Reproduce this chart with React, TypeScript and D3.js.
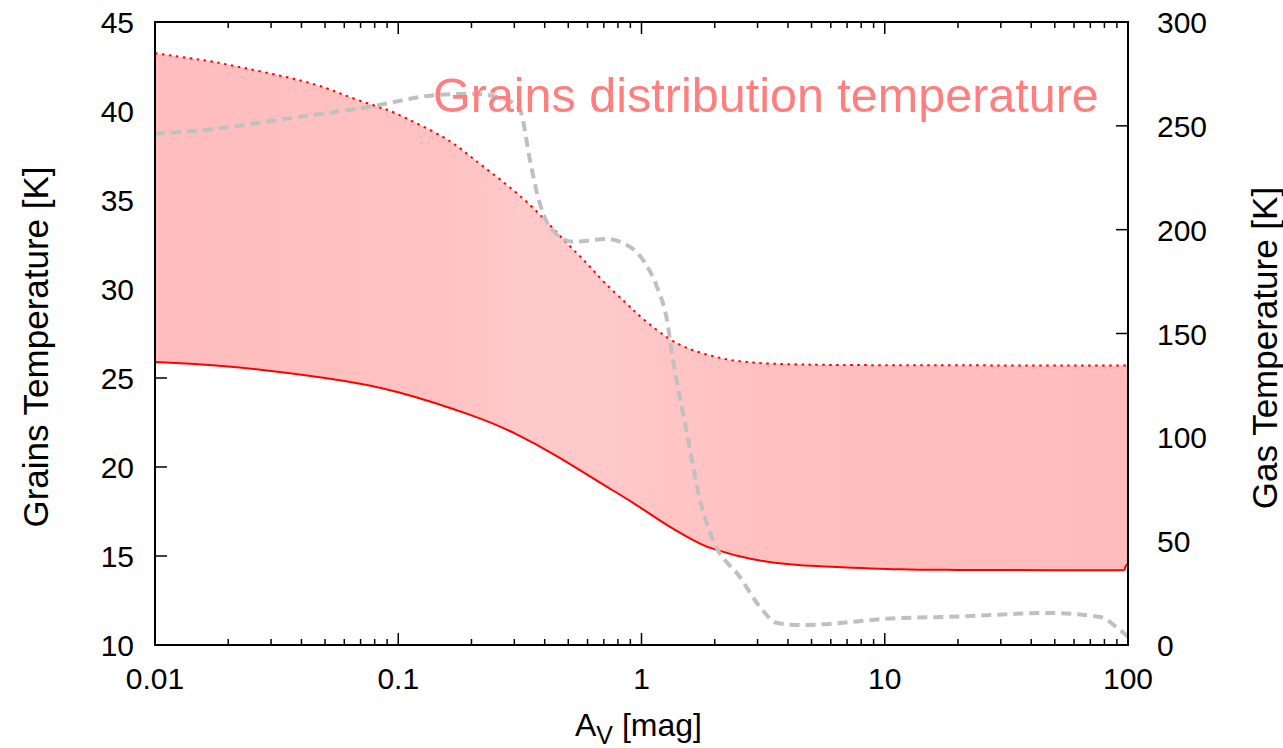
import React from "react";
import * as d3 from "d3";

// Grain temperature range (K) vs A_V (mag)
const grainAv = [0.01, 0.02, 0.05, 0.1, 0.2, 0.3, 0.45, 0.67, 0.92, 1.27, 1.74, 2.03, 2.5, 3.3, 4.4, 6.0, 11.5, 20, 50, 90, 97, 100];
const grainMin = [25.9, 25.65, 25.0, 24.2, 22.9, 21.9, 20.6, 19.15, 18.0, 16.75, 15.7, 15.35, 15.0, 14.68, 14.5, 14.4, 14.25, 14.22, 14.2, 14.2, 14.3, 14.6];

const upperAv = [0.01, 0.015, 0.02, 0.04, 0.06, 0.084, 0.1, 0.15, 0.2, 0.3, 0.4, 0.5, 0.6, 0.7, 0.85, 1.0, 1.27, 1.6, 2.0, 2.5, 3.5, 5, 10, 100];
const grainMax = [43.25, 42.9, 42.6, 41.7, 40.9, 40.2, 39.8, 38.6, 37.4, 35.5, 33.9, 32.5, 31.4, 30.4, 29.3, 28.4, 27.3, 26.6, 26.2, 25.95, 25.8, 25.75, 25.72, 25.7];

// Gas temperature (K) vs A_V
const gasAv = [0.01, 0.0153, 0.0395, 0.0765, 0.135, 0.2, 0.28, 0.3165, 0.348, 0.372, 0.42, 0.523, 0.72, 0.84, 1.014, 1.158, 1.273, 1.348, 1.538, 1.74, 1.968, 2.54, 3.07, 3.61, 4.48, 11.55, 18.6, 47.8, 76.7, 92.7, 100];
const gasT = [246.2, 247.8, 254.4, 259.2, 264.5, 265.5, 262.4, 257.6, 233.5, 217.6, 201.3, 194.2, 195.5, 193.6, 185.4, 172.4, 156.5, 137.2, 102, 69.8, 50.6, 32.7, 18.3, 10.6, 9.6, 13, 13.6, 15.4, 13.5, 7.2, 4];

const xTickValues = [0.01, 0.1, 1, 10, 100];
const xTickLabels = ["0.01", "0.1", "1", "10", "100"];
const yLeftTicks = [10, 15, 20, 25, 30, 35, 40, 45];
const yRightTicks = [0, 50, 100, 150, 200, 250, 300];

const W = 1283, H = 748;
const L = 155, R = 1128, T = 22, B = 645;
const FONT = "'Liberation Sans', Arial, Helvetica, sans-serif";

export default function App() {
  const x = d3.scaleLog().domain([0.01, 100]).range([L, R]);
  const yL = d3.scaleLinear().domain([10, 45]).range([B, T]);
  const yR = d3.scaleLinear().domain([0, 300]).range([B, T]);

  const lowerPts: [number, number][] = grainAv.map((a, i) => [x(a), yL(grainMin[i])]);
  const upperPts: [number, number][] = upperAv.map((a, i) => [x(a), yL(grainMax[i])]);
  const gasPts: [number, number][] = gasAv.map((a, i) => [x(a), yR(gasT[i])]);

  const smooth = d3.line().curve(d3.curveNatural);
  const mono = d3.line().curve(d3.curveMonotoneX);
  const lowerPath = smooth(lowerPts) || "";
  const upperPath = smooth(upperPts) || "";
  const gasPath = mono(gasPts) || "";
  const lowerRev = smooth(lowerPts.slice().reverse()) || "";
  const last = lowerPts[lowerPts.length - 1];
  const fillPath = upperPath + "L" + last[0] + "," + last[1] + lowerRev.replace(/^M[^A-Za-z]*/, "") + "Z";

  const minorTicks: number[] = [];
  for (let e = -2; e < 2; e++) {
    for (let m = 2; m <= 9; m++) minorTicks.push(m * Math.pow(10, e));
  }

  return (
    <svg width={W} height={H} style={{ position: "absolute", left: 0, top: 0, background: "#fff" }} fontFamily={FONT}>
      <defs>
        <linearGradient id="fillGrad" gradientUnits="userSpaceOnUse" x1={L} x2={R} y1={0} y2={0}>
          <stop offset="0" stopColor="#ffbdbd" />
          <stop offset="0.3" stopColor="#ffc2c2" />
          <stop offset="0.38" stopColor="#ffcaca" />
          <stop offset="0.48" stopColor="#ffc8c8" />
          <stop offset="0.62" stopColor="#ffc0c0" />
          <stop offset="1" stopColor="#ffbcbc" />
        </linearGradient>
      </defs>

      {/* ticks (drawn under the fill) */}
      <g stroke="#000" strokeWidth={1.5}>
        {xTickValues.map((v) => (
          <g key={"xt" + v}>
            <line x1={x(v)} x2={x(v)} y1={B} y2={B - 12} />
            <line x1={x(v)} x2={x(v)} y1={T} y2={T + 12} />
          </g>
        ))}
        {minorTicks.map((v) => (
          <g key={"xm" + v}>
            <line x1={x(v)} x2={x(v)} y1={B} y2={B - 6} />
            <line x1={x(v)} x2={x(v)} y1={T} y2={T + 6} />
          </g>
        ))}
        {yLeftTicks.map((v) => (
          <line key={"yl" + v} x1={L} x2={L + 12} y1={yL(v)} y2={yL(v)} />
        ))}
        {yRightTicks.map((v) => (
          <line key={"yr" + v} x1={R} x2={R - 12} y1={yR(v)} y2={yR(v)} />
        ))}
      </g>

      {/* grain temperature band */}
      <path d={fillPath} fill="url(#fillGrad)" stroke="none" />
      <path d={upperPath} fill="none" stroke="#ff0000" strokeWidth={2} strokeDasharray="2.5,4.5" />
      <path d={lowerPath} fill="none" stroke="#ff0000" strokeWidth={2} />

      {/* gas temperature */}
      <path d={gasPath} fill="none" stroke="#c0c0c0" strokeWidth={4} strokeDasharray="10,6" />

      {/* frame */}
      <rect x={L} y={T} width={R - L} height={B - T} fill="none" stroke="#000" strokeWidth={2} />

      {/* tick labels */}
      <g fontSize={30} fill="#000">
        {xTickValues.map((v, i) => (
          <text key={"xl" + v} x={x(v)} y={689} textAnchor="middle">{xTickLabels[i]}</text>
        ))}
        {yLeftTicks.map((v) => (
          <text key={"yll" + v} x={134} y={yL(v) + 11} textAnchor="end">{v}</text>
        ))}
        {yRightTicks.map((v) => (
          <text key={"yrl" + v} x={1157} y={yR(v) + 11} textAnchor="start">{v}</text>
        ))}
      </g>

      {/* axis titles */}
      <text x={575} y={736} fontSize={32} fill="#000">
        A<tspan dy={8} fontSize={25}>V</tspan><tspan dy={-8}> [mag]</tspan>
      </text>
      <text transform="translate(48,347) rotate(-90)" textAnchor="middle" fontSize={35} fill="#000">
        Grains Temperature [K]
      </text>
      <text transform="translate(1277,348) rotate(-90)" textAnchor="middle" fontSize={35} fill="#000">
        Gas Temperature [K]
      </text>

      <text x={433} y={112} fontSize={48.5} fill="#ff7f7f">Grains distribution temperature</text>
    </svg>
  );
}
